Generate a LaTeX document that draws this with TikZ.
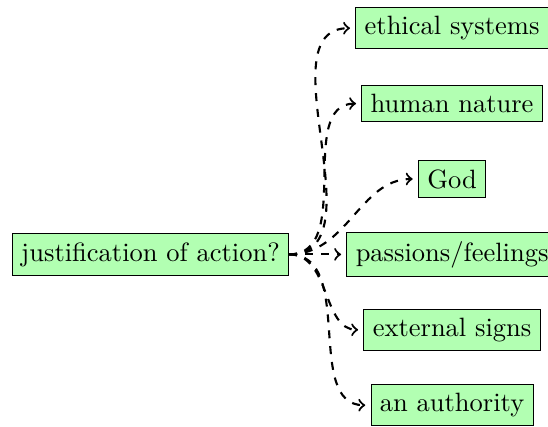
\documentclass[tikz,border=0pt]{standalone}
\begin{document}
\begin{tikzpicture}[
  box/.style={draw=black, fill=green!30, inner sep=3.33pt},
  link/.style={->, dashed, thick, shorten >=2pt}
]
\useasboundingbox (-56.8pt,-64.8pt) rectangle (150.0pt,96.0pt);
\node[box] (root) at (0,0) {justification of action?};
\node[box] (c1) at (4cm,3cm) {ethical systems};
\node[box] (c2) at (4cm,2cm) {human nature};
\node[box] (c3) at (4cm,1cm) {God};
\node[box] (c4) at (4cm,0cm) {passions/feelings};
\node[box] (c5) at (4cm,-1cm) {external signs};
\node[box] (c6) at (4cm,-2cm) {an authority};
\foreach \c in {c1,c2,c3,c4,c5,c6}
  \draw[link] (root.east) to[out=0,in=180] (\c.west);
\end{tikzpicture}
\end{document}
